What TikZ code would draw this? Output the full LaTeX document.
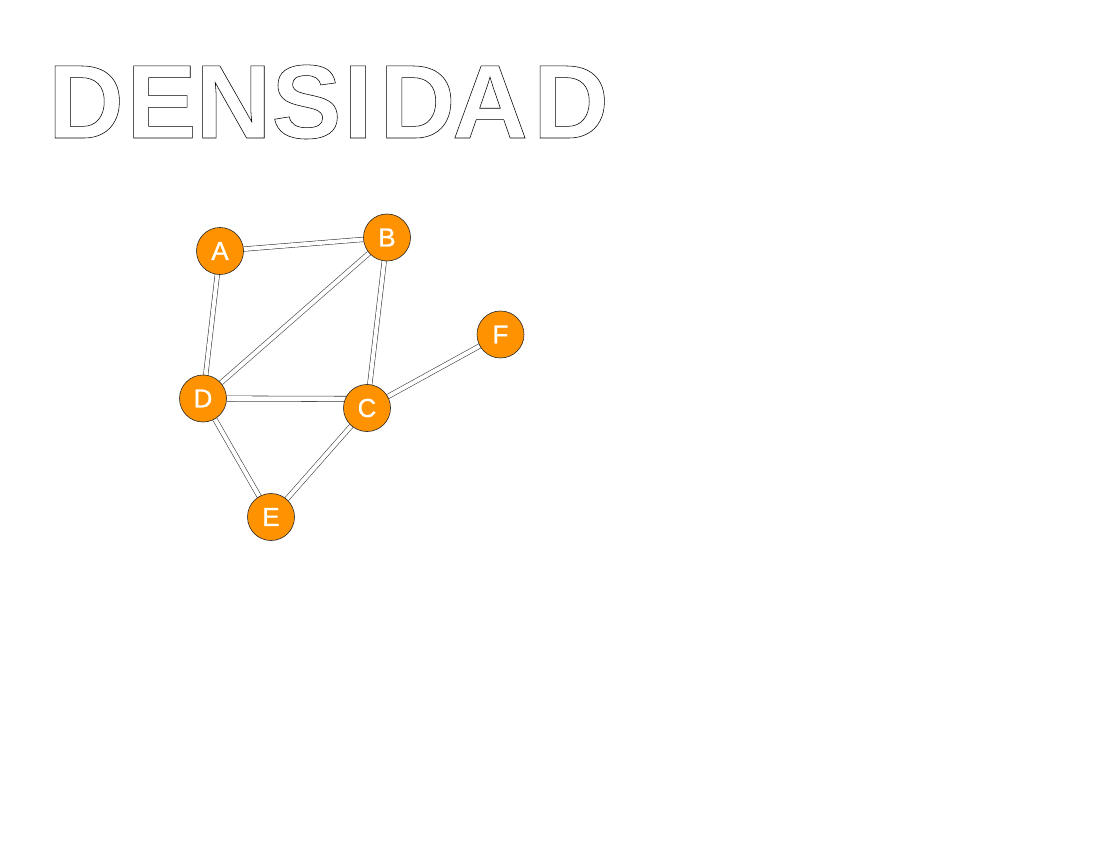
\documentclass[tikz,border=0pt]{standalone}
\usepackage{fontspec}
\setmainfont{Liberation Sans}
\newfontfamily\nodefont{Liberation Sans}[FakeBold=0.7]
\usetikzlibrary{backgrounds}
\definecolor{nodeorange}{HTML}{FF9200}
\newcommand{\outlinetext}[1]{\special{pdf:literal direct 0.55 w 1 Tr}#1\special{pdf:literal direct 0 Tr}}
\tikzset{
  vertex/.style={circle, fill=nodeorange, draw=black!85, line width=0.6pt,
    minimum size=47pt, inner sep=0pt, text=white,
    font=\nodefont\fontsize{26}{26}\selectfont},
  link/.style={draw=black!80, line width=0.55pt, double=white, double distance=4pt},
  titleletter/.style={inner sep=0pt, anchor=base,
    font=\fontsize{104.7}{110}\selectfont\bfseries}
}
\begin{document}
\begin{tikzpicture}[x=1pt,y=-1pt]
\useasboundingbox (0,0) rectangle (1100,850);
% title
\node[titleletter] (t1) at (86,138) {\outlinetext{D}};
\node[titleletter] (t2) at (161.5,138) {\outlinetext{E}};
\node[titleletter] (t3) at (233.5,138) {\outlinetext{N}};
\node[titleletter] (t4) at (306.5,138) {\outlinetext{S}};
\node[titleletter] (t5) at (358,138) {\outlinetext{I}};
\node[titleletter] (t6) at (417.5,138) {\outlinetext{D}};
\node[titleletter] (t7) at (490,138) {\outlinetext{A}};
\node[titleletter] (t8) at (571,138) {\outlinetext{D}};
% graph nodes
\node[vertex] (A) at (220,251) {A};
\node[vertex] (B) at (387,237.5) {B};
\node[vertex] (C) at (367,408) {C};
\node[vertex] (D) at (203,398.5) {D};
\node[vertex] (E) at (271,517) {E};
\node[vertex] (F) at (500.5,334.5) {F};
\coordinate (DCend) at (367,399);
\begin{pgfonlayer}{background}
\draw[link] (A) -- (B);
\draw[link] (A) -- (D);
\draw[link] (B) -- (D);
\draw[link] (B) -- (C);
\draw[link, double distance=4.8pt] (D) -- (DCend);
\draw[link] (D) -- (E);
\draw[link] (C) -- (E);
\draw[link] (C) -- (F);
\end{pgfonlayer}
\end{tikzpicture}
\end{document}
